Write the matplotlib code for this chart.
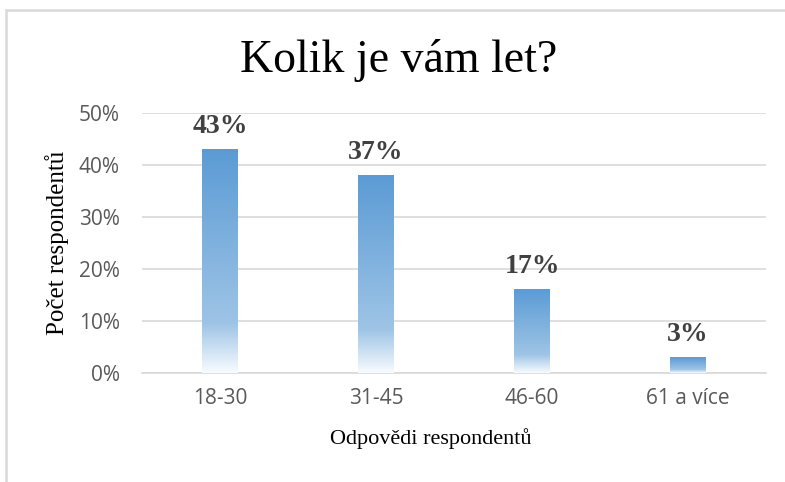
import numpy as np
import matplotlib
matplotlib.use('Agg')
from matplotlib import pyplot as plt
from matplotlib.colors import LinearSegmentedColormap
from matplotlib.patches import Rectangle

# data
kategorie = ['18-30', '31-45', '46-60', '61 a více']
hodnoty = [43, 38, 16, 3]          # bar heights in %
popisky = ['43%', '37%', '17%', '3%']  # labels as printed on the chart
y_ticks = [0, 10, 20, 30, 40, 50]

serif = ['Liberation Serif', 'DejaVu Serif']
sans = ['Open Sans', 'DejaVu Sans']

fig = plt.figure(figsize=(7.85, 4.82), dpi=100)
ax = fig.add_axes([0.181, 0.226, 0.795, 0.540])

# outer chart border (cropped at right/bottom)
fig.patches.append(Rectangle((6 / 785, -0.1), 1.2, 1 - 10 / 482 + 0.1,
                             transform=fig.transFigure, fill=False,
                             edgecolor='#D9D9D9', linewidth=1.8))

x = np.arange(len(kategorie))
bars = ax.bar(x, hodnoty, width=0.23, color='none', edgecolor='none', zorder=3)

# gradient fill: white at the bottom -> blue at the top
cmap = LinearSegmentedColormap.from_list('grad', [
    (0.0, (0.97, 0.985, 1.0)),
    (0.22, (0.62, 0.77, 0.90)),
    (1.0, (0.357, 0.608, 0.835)),
])
grad = np.linspace(0, 1, 256).reshape(-1, 1)
for b in bars:
    x0, w, h = b.get_x(), b.get_width(), b.get_height()
    ax.imshow(grad, cmap=cmap, origin='lower', aspect='auto',
              extent=(x0, x0 + w, 0, h), zorder=3)

for xi, h, txt in zip(x, hodnoty, popisky):
    ax.annotate(txt, (xi, h), xytext=(0, 12), textcoords='offset points',
                ha='center', va='baseline', fontsize=20, fontweight='bold',
                color='#404040', family=serif, zorder=4)

ax.set_xlim(-0.5, len(kategorie) - 0.5)
ax.set_ylim(0, 50)
ax.set_yticks(y_ticks)
ax.set_yticklabels([f'{v}%' for v in y_ticks])
ax.set_xticks(x)
ax.set_xticklabels(kategorie)
ax.grid(axis='y', color='#D9D9D9', linewidth=1.2, zorder=0)
ax.set_axisbelow(True)
for s in ['top', 'right', 'left']:
    ax.spines[s].set_visible(False)
ax.spines['bottom'].set_color('#D9D9D9')
ax.spines['bottom'].set_linewidth(1.2)
ax.tick_params(length=0, labelsize=15, labelcolor='#595959')
for lbl in ax.get_xticklabels() + ax.get_yticklabels():
    lbl.set_family(sans)
ax.tick_params(axis='x', pad=11)
ax.tick_params(axis='y', pad=16)

ax.set_xlabel('Odpovědi respondentů', fontsize=16, family=serif, va='center')
ax.xaxis.set_label_coords(0.463, -0.25)
ax.set_ylabel('Počet respondentů', fontsize=18, family=serif, va='center')
ax.yaxis.set_label_coords(-0.136, 0.5)
fig.text(0.508, 1 - 72 / 482, 'Kolik je vám let?', ha='center', va='baseline',
         fontsize=33, family=serif)

plt.savefig('out.png', dpi=100)
